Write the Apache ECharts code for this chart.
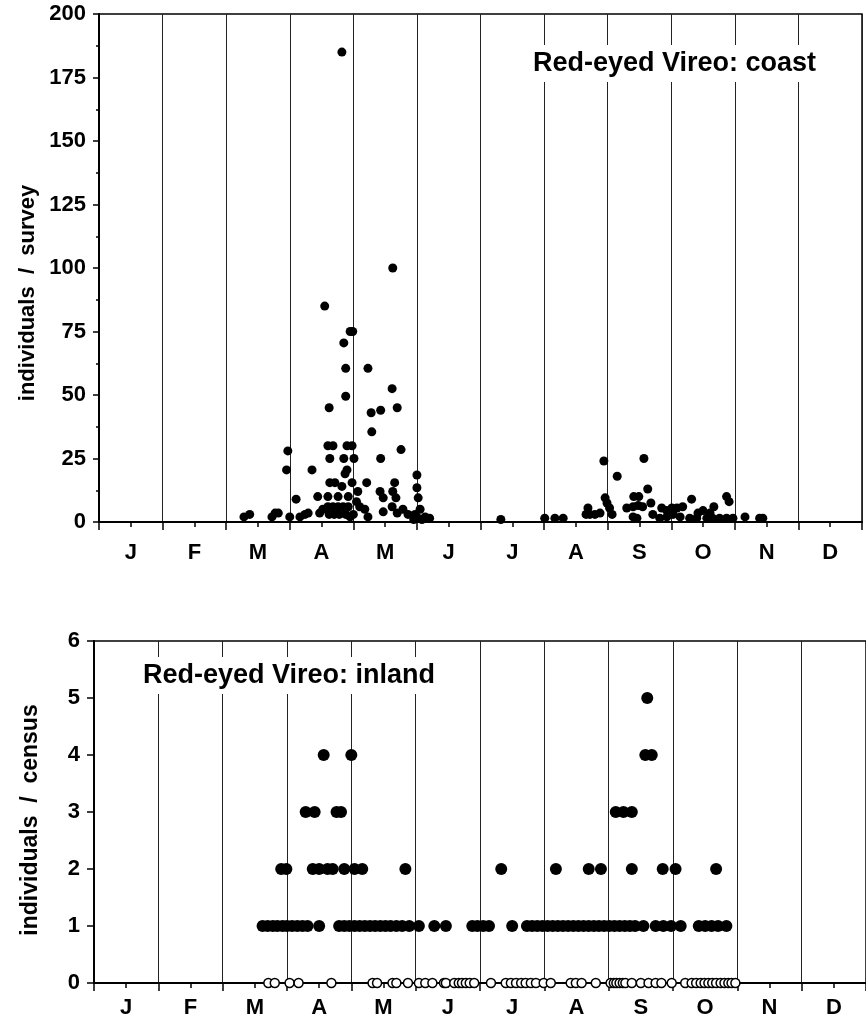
<html lang="en">
<head>
    <meta charset="UTF-8">
    <title>Red-eyed Vireo</title>
    <script src="https://cdn.jsdelivr.net/npm/echarts@6/dist/echarts.min.js"></script>
    <style>
        body { margin: 0; background: #fff; }
    </style>
</head>
<body>
<div id="main" style="width: 866px;height:1023px;"></div>
<script type="text/javascript">
    // month labels (x axis is months from 1 Jan: 0..12)
    var months = ['J', 'F', 'M', 'A', 'M', 'J', 'J', 'A', 'S', 'O', 'N', 'D'];

    // coast: individuals / survey
    var coastX = [2.28, 2.37, 2.72, 2.77, 2.82, 2.95, 2.97, 3.0, 3.1, 3.16, 3.24, 3.29, 3.35, 3.44, 3.47, 3.52,
        3.55, 3.6, 3.68, 3.62, 3.63, 3.63, 3.71, 3.6, 3.76, 3.92, 3.6, 3.68, 3.76, 3.84, 3.92, 3.62, 3.7, 3.78,
        3.88, 3.82, 3.82, 3.85, 3.85, 3.88, 3.88, 3.9, 3.98, 3.9, 3.87, 3.95, 3.99, 3.98, 4.01, 4.05, 4.07, 4.1,
        4.18, 4.21, 4.23, 4.23, 4.28, 4.29, 4.42, 4.43, 4.43, 4.47, 4.47, 4.61, 4.61, 4.62, 4.62, 4.65, 4.67,
        4.69, 4.69, 4.75, 4.78, 4.86, 4.97, 5.0, 5.0, 5.02, 5.0, 5.05, 5.13, 5.2, 4.0, 3.95, 4.95, 5.08,
        6.32, 7.01, 7.17, 7.3, 7.66, 7.69, 7.72, 7.8, 7.88, 7.94, 7.96, 7.99, 8.03, 8.07, 8.15, 8.3, 8.4, 8.41,
        8.49, 8.48, 8.55, 8.4, 8.46, 8.57, 8.63, 8.68, 8.71, 8.82, 8.85, 8.93, 8.93, 9.01, 9.03, 9.09, 9.14,
        9.18, 9.29, 9.32, 9.4, 9.42, 9.5, 9.56, 9.61, 9.65, 9.67, 9.76, 9.87, 9.87, 9.91, 9.97, 10.16, 10.39, 10.44];
    var coastY = [2, 3, 2, 3.5, 3.5, 20.5, 28, 2, 9, 2, 3, 3.5, 20.5, 10, 3.5, 5,
        85, 30, 30, 45, 25, 15.5, 15.5, 10, 10, 10, 6, 6, 6, 6, 6, 3, 3, 3,
        3, 14, 185, 70.5, 25, 60.5, 49.5, 30, 30, 20.5, 19, 75, 75, 15.5, 25, 8, 12, 6,
        5, 15.5, 60.5, 2, 43, 35.5, 12, 44, 25, 9.5, 4, 52.5, 6, 100, 12, 15.5, 9.5,
        45, 3.5, 28.5, 5, 3, 3, 18.5, 13.5, 9.5, 2, 5, 2, 1.5, 3, 2, 1, 1,
        1, 1.5, 1.5, 1.5, 3, 5.5, 3, 3, 3.5, 24, 9.5, 7.5, 5.5, 3, 18, 5.5, 6, 10,
        10, 6.5, 6, 2, 1.5, 25, 13, 7.5, 3, 1.5, 5.5, 4.5, 2, 5.5, 3, 5.5, 2,
        6, 1.5, 9, 1.5, 3.5, 4.5, 1.5, 3.5, 1.5, 6, 1.5, 10, 1.5, 8, 1.5, 2, 1.5, 1.5];

    // inland: individuals / census (filled = birds present)
    var inlandX = [3.57, 4.0, 8.57, 8.67, 8.60,
        3.29, 3.43, 3.77, 3.84, 8.11, 8.23, 8.36,
        2.91, 2.99, 3.40, 3.50, 3.63, 3.71, 3.89, 4.05, 4.17, 4.84, 6.33, 7.18, 7.69, 7.88, 8.36, 8.84, 9.04, 9.67,
        2.62, 2.70, 2.78, 2.85, 2.93, 3.00, 3.08, 3.16, 3.24, 3.32, 3.50, 3.81, 3.89, 3.97, 4.05, 4.13, 4.21,
        4.29, 4.37, 4.45, 4.53, 4.61, 4.70, 4.79, 4.90, 5.05, 5.29, 5.47, 5.88, 5.96, 6.05, 6.14, 6.50,
        6.73, 6.81, 6.89, 6.97, 7.05, 7.13, 7.21, 7.29, 7.37, 7.45, 7.53, 7.61, 7.69, 7.77, 7.85, 7.93,
        8.01, 8.09, 8.17, 8.25, 8.33, 8.41, 8.54, 8.73, 8.85, 8.97, 9.12, 9.40, 9.50, 9.60, 9.70, 9.83];
    var inlandY = [4, 4, 4, 4, 5,
        3, 3, 3, 3, 3, 3, 3,
        2, 2, 2, 2, 2, 2, 2, 2, 2, 2, 2, 2, 2, 2, 2, 2, 2, 2,
        1, 1, 1, 1, 1, 1, 1, 1, 1, 1, 1, 1, 1, 1, 1, 1, 1,
        1, 1, 1, 1, 1, 1, 1, 1, 1, 1, 1, 1, 1, 1, 1, 1,
        1, 1, 1, 1, 1, 1, 1, 1, 1, 1, 1, 1, 1, 1, 1, 1,
        1, 1, 1, 1, 1, 1, 1, 1, 1, 1, 1, 1, 1, 1, 1, 1];

    // inland censuses with none seen (open circles at 0)
    var zeroX = [2.71, 2.81, 3.04, 3.18, 3.69, 4.33, 4.40, 4.64, 4.70, 4.88, 5.05, 5.15, 5.26, 5.44, 5.47,
        5.60, 5.67, 5.72, 5.78, 5.84, 5.91, 6.17, 6.40, 6.48, 6.56, 6.64, 6.71, 6.79, 6.87, 6.99, 7.10,
        7.41, 7.49, 7.58, 7.80, 8.03, 8.08, 8.12, 8.17, 8.22, 8.26, 8.36, 8.50, 8.62, 8.73, 8.82, 8.98,
        9.19, 9.29, 9.36, 9.43, 9.49, 9.55, 9.61, 9.67, 9.74, 9.80, 9.86, 9.91, 9.97];

    function zip(xs, ys) {
        return xs.map(function (x, i) { return [x, ys[i]]; });
    }

    var font = "'Liberation Sans', Arial, sans-serif";
    var black = '#000';

    function monthAxis(grid, labelMargin) {
        return [{
            type: 'value', gridIndex: grid, min: 0, max: 12, interval: 1,
            axisLine: { lineStyle: { color: black, width: 2 } },
            axisTick: { inside: false, length: 8, lineStyle: { color: black, width: 1.5 } },
            minorTick: { show: true, splitNumber: 2, length: 5, lineStyle: { color: black, width: 1.5 } },
            axisLabel: { show: false },
            splitLine: { show: true, lineStyle: { color: '#222', width: 1 } }
        }, {
            type: 'category', gridIndex: grid, data: months, boundaryGap: true, position: 'bottom',
            axisLine: { show: false }, axisTick: { show: false }, splitLine: { show: false },
            axisLabel: { margin: labelMargin, color: black, fontFamily: font, fontWeight: 'bold', fontSize: 22 }
        }];
    }

    var myChart = echarts.init(document.getElementById('main'));
    var option = {
        animation: false,
        backgroundColor: '#fff',
        title: [{
            text: 'Red-eyed Vireo: coast',
            left: 527, top: 45, padding: [5, 6],
            backgroundColor: '#fff',
            textStyle: { fontFamily: font, fontWeight: 'bold', fontSize: 27, color: black }
        }, {
            text: 'Red-eyed Vireo: inland',
            left: 137, top: 657, padding: [5, 6],
            backgroundColor: '#fff',
            textStyle: { fontFamily: font, fontWeight: 'bold', fontSize: 27, color: black }
        }],
        grid: [
            { left: 99, top: 14, width: 763, height: 508, show: true, borderColor: black, borderWidth: 1.5, backgroundColor: 'transparent' },
            { left: 94, top: 641, width: 774, height: 342, show: true, borderColor: black, borderWidth: 1.5, backgroundColor: 'transparent' }
        ],
        xAxis: monthAxis(0, 20).concat(monthAxis(1, 14)),
        yAxis: [{
            type: 'value', gridIndex: 0, min: 0, max: 200, interval: 25,
            axisLine: { show: true, lineStyle: { color: black, width: 2 } },
            axisTick: { show: true, length: 6, lineStyle: { color: black, width: 1.5 } },
            minorTick: { show: true, splitNumber: 2, length: 3, lineStyle: { color: black, width: 1.5 } },
            splitLine: { show: false },
            axisLabel: { margin: 13, color: black, fontFamily: font, fontWeight: 'bold', fontSize: 22 }
        }, {
            type: 'value', gridIndex: 1, min: 0, max: 6, interval: 1,
            axisLine: { show: true, lineStyle: { color: black, width: 2 } },
            axisTick: { show: true, length: 7, lineStyle: { color: black, width: 1.5 } },
            splitLine: { show: false },
            axisLabel: { margin: 14, color: black, fontFamily: font, fontWeight: 'bold', fontSize: 22 }
        }],
        graphic: [{
            type: 'text', x: 28, y: 293, rotation: Math.PI / 2,
            style: { text: 'individuals  /  survey', fill: black, font: 'bold 22px ' + font, align: 'center', verticalAlign: 'middle' }
        }, {
            type: 'text', x: 31, y: 820, rotation: Math.PI / 2,
            style: { text: 'individuals  /  census', fill: black, font: 'bold 23px ' + font, align: 'center', verticalAlign: 'middle' }
        }],
        series: [{
            name: 'coast', type: 'scatter', xAxisIndex: 0, yAxisIndex: 0,
            symbol: 'circle', symbolSize: 9,
            itemStyle: { color: black, opacity: 1 },
            data: zip(coastX, coastY)
        }, {
            name: 'inland', type: 'scatter', xAxisIndex: 2, yAxisIndex: 1,
            symbol: 'circle', symbolSize: 12,
            itemStyle: { color: black, opacity: 1 },
            data: zip(inlandX, inlandY)
        }, {
            name: 'inland none', type: 'scatter', xAxisIndex: 2, yAxisIndex: 1,
            symbol: 'circle', symbolSize: 9, z: 5,
            itemStyle: { color: '#fff', borderColor: black, borderWidth: 1.5, opacity: 1 },
            data: zeroX.map(function (x) { return [x, 0]; })
        }]
    };
    myChart.setOption(option);
</script>
</body>
</html>
